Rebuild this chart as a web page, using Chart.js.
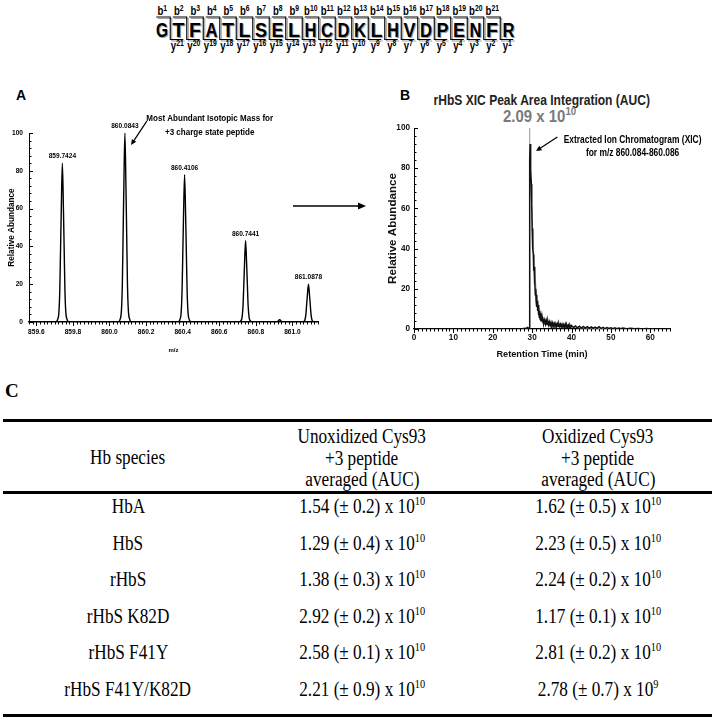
<!DOCTYPE html>
<html>
<head>
<meta charset="utf-8">
<script src="https://cdn.jsdelivr.net/npm/chart.js@4.4.1/dist/chart.umd.min.js"></script>
<style>
  html, body { margin: 0; padding: 0; background: #fff; }
  body { position: relative; width: 714px; height: 719px; overflow: hidden; font-family: 'Liberation Sans', Arial, sans-serif; }
  .abs { position: absolute; }
  .panel { font: bold 14px 'Liberation Sans', Arial, sans-serif; color: #000; }
  .squeeze { display: inline-block; transform-origin: center; }
  .cell { position: absolute; width: 300px; text-align: center; font: 20px 'Liberation Serif', 'Times New Roman', serif; line-height: 22px; color: #000; white-space: nowrap; }
  .cell span.sq { display: inline-block; transform: scaleX(0.86); }
  .cell sup { font-size: 12px; vertical-align: 8px; line-height: 0; }
  .rule { position: absolute; left: 3px; width: 709px; height: 3px; background: #000; }
</style>
</head>
<body>
<svg id="seq" class="abs" style="left:0;top:0" width="714" height="56"></svg>

<div class="abs panel" style="left:16px;top:87px">A</div>
<div class="abs panel" style="left:400px;top:87px">B</div>

<div class="abs" style="left:392px;top:92px;width:300px;text-align:center;font-weight:bold;font-size:14px;color:#222"><span class="squeeze" style="transform:scaleX(0.86)">rHbS XIC Peak Area Integration (AUC)</span></div>
<div class="abs" style="left:390px;top:107px;width:300px;text-align:center;font-weight:bold;font-size:17px;color:#7a7a7a"><span class="squeeze" style="transform:scaleX(0.88)">2.09 x 10<sup style="font-size:11px;vertical-align:7px;line-height:0">10</sup></span></div>

<div class="abs" style="left:0;top:100px;width:330px;height:272px"><canvas id="specChart"></canvas></div>
<div class="abs" style="left:360px;top:80px;width:354px;height:290px"><canvas id="xicChart"></canvas></div>

<svg class="abs" style="left:0;top:0" width="714" height="380">
  <line x1="293" y1="206" x2="359" y2="206" stroke="#000" stroke-width="1.5"/>
  <polygon points="358,202.5 366,206 358,209.5" fill="#000"/>
</svg>

<div class="abs" style="left:5px;top:380px;font:bold 19px 'Liberation Serif','Times New Roman',serif">C</div>
<div id="tbl"></div>

<script>
// peptide sequence
const residues = ['G', 'T', 'F', 'A', 'T', 'L', 'S', 'E', 'L', 'H', 'C', 'D', 'K', 'L', 'H', 'V', 'D', 'P', 'E', 'N', 'F', 'R'];

// panel A: isotope cluster of the +3 peptide (profile spectrum)
const peakMz = [859.7424, 860.0843, 860.4106, 860.7441, 861.0878];
const peakAbund = [84, 100, 78, 43, 20];
const specMz = [
  859.56,
  859.7064, 859.7164, 859.7234, 859.7284, 859.7324, 859.7364, 859.7424, 859.7484, 859.7524, 859.7564, 859.7614, 859.7684, 859.7784,
  860.0483, 860.0583, 860.0653, 860.0703, 860.0743, 860.0783, 860.0843, 860.0903, 860.0943, 860.0983, 860.1033, 860.1103, 860.1203,
  860.3746, 860.3846, 860.3916, 860.3966, 860.4006, 860.4046, 860.4106, 860.4166, 860.4206, 860.4246, 860.4296, 860.4366, 860.4466,
  860.7081, 860.7181, 860.7251, 860.7301, 860.7341, 860.7381, 860.7441, 860.7501, 860.7541, 860.7581, 860.7631, 860.7701, 860.7801,
  860.915, 860.93, 860.945,
  861.0518, 861.0618, 861.0688, 861.0738, 861.0778, 861.0818, 861.0878, 861.0938, 861.0978, 861.1018, 861.1068, 861.1138, 861.1238,
  861.14
];
const specAbund = [
  0,
  0, 1.3, 5, 17, 38, 59, 84, 59, 38, 17, 5, 1.3, 0,
  0, 1.5, 6, 20, 45, 70, 100, 70, 45, 20, 6, 1.5, 0,
  0, 1.2, 4.7, 16, 35, 55, 78, 55, 35, 16, 4.7, 1.2, 0,
  0, 0.6, 2.6, 8.6, 19, 30, 43, 30, 19, 8.6, 2.6, 0.6, 0,
  0, 1.2, 0,
  0, 0.3, 1.2, 4, 9, 14, 20, 14, 9, 4, 1.2, 0.3, 0,
  0
];

// panel B: extracted ion chromatogram (black) and integrated peak (grey)
const xicRt = [
  0, 27.5, 27.9, 28.2, 28.5, 28.7, 28.9, 29.1, 29.2,
  29.3, 29.35, 29.4, 29.45, 29.5, 29.55, 29.6, 29.7, 29.8, 29.9, 30.0, 30.1, 30.2, 30.3, 30.4, 30.5, 30.6, 30.7, 30.8, 30.9,
  31.0, 31.1, 31.2, 31.3, 31.4, 31.5, 31.6, 31.7, 31.8, 31.9, 32.0, 32.1, 32.2, 32.3, 32.4, 32.5, 32.6, 32.7, 32.8, 32.9, 33.0,
  33.2, 33.4, 33.6, 33.8, 34.0, 34.2, 34.4, 34.6, 34.8, 35.0, 35.2, 35.4, 35.6, 35.8, 36.0, 36.2, 36.4, 36.6, 36.8,
  37.0, 37.2, 37.4, 37.6, 37.8, 38.0, 38.2, 38.4, 38.6, 38.8, 39.0, 39.2, 39.4, 39.6, 39.8, 40.0,
  40.5, 41, 41.5, 42, 42.5, 43, 43.5, 44, 44.5, 45, 45.5, 46, 46.5, 47, 47.5, 48, 48.5, 49, 49.5, 50,
  50.5, 51, 51.5, 52, 52.5, 53, 54, 55, 56, 57, 58, 59, 60, 65
];
const xicAbund = [
  0, 0, 0.3, 0.1, 0.5, 0.2, 0.6, 0.3, 0.4,
  1, 20, 55, 84, 92, 86, 88, 79, 72, 62, 50, 48, 40, 37, 29, 31, 22, 25, 17, 20,
  14, 17, 11, 14, 9, 12, 7, 10, 6, 9, 5, 8, 4.5, 7, 4, 6, 3.5, 5.5, 3, 5, 2.8, 4.6,
  2.5, 4.2, 2.2, 3.8, 2, 3.5, 1.8, 3.2, 1.6, 3.0, 1.5, 2.8, 1.4, 2.7, 1.3, 2.6, 1.2, 2.5, 1.2,
  2.4, 1.1, 2.3, 1.0, 2.2, 1.0, 2.4, 0.9, 2.0, 0.9, 1.9, 0.8, 1.8, 0.8, 1.7, 0.7,
  1.5, 0.6, 1.4, 0.5, 1.3, 0.5, 1.2, 0.4, 1.0, 0.4, 0.9, 0.3, 1.1, 0.3, 0.8, 0.2, 0.7, 0.3, 0.6, 0.2,
  0.6, 0.2, 0.5, 0.1, 0.5, 0.1, 0.4, 0.1, 0.3, 0, 0.2, 0, 0, 0
];
const aucRt = [29.2, 29.3, 29.33, 29.45, 29.7, 30.0, 30.3, 30.6, 31.0, 31.5, 32.2, 33.2, 35, 38, 42, 48, 55];
const aucAbund = [0, 0.5, 100, 82, 70, 55, 42, 31, 20, 12, 7.5, 4.5, 2.8, 1.5, 0.6, 0.2, 0];

// panel C table
const species = ['HbA', 'HbS', 'rHbS', 'rHbS K82D', 'rHbS F41Y', 'rHbS F41Y/K82D'];
const unoxMean = [1.54, 1.29, 1.38, 2.92, 2.58, 2.21];
const unoxSd = [0.2, 0.4, 0.3, 0.2, 0.1, 0.9];
const unoxExp = [10, 10, 10, 10, 10, 10];
const oxMean = [1.62, 2.23, 2.24, 1.17, 2.81, 2.78];
const oxSd = [0.5, 0.5, 0.2, 0.1, 0.2, 0.7];
const oxExp = [10, 10, 10, 10, 10, 9];

const ARIAL = "'Liberation Sans', Arial, sans-serif";

// ---- sequence with b / y fragment brackets
const svg = document.getElementById('seq');
const NS = 'http://www.w3.org/2000/svg';
function el(tag, attrs, text, parent) {
  const e = document.createElementNS(NS, tag);
  for (const k in attrs) e.setAttribute(k, attrs[k]);
  if (text !== undefined) e.textContent = text;
  (parent || svg).appendChild(e);
  return e;
}
function ionLabel(x, y, ion, n) {
  const g = el('g', { transform: `translate(${x} ${y}) scale(0.8 1)` });
  const t = el('text', { x: 0, y: 0, 'text-anchor': 'middle', 'font-family': ARIAL, 'font-weight': 'bold', 'font-size': 12 }, undefined, g);
  el('tspan', {}, ion, t);
  el('tspan', { dy: -4, 'font-size': 8.5 }, n, t);
}
const seqX0 = 162, seqDx = 16.5;
for (let k = 1; k < residues.length; k++) {
  const xc = seqX0 + (k - 0.5) * seqDx;
  const d = `M${xc - 14} 17 H${xc} V39.5 H${xc + 13}`;
  el('path', { d: d, fill: 'none', stroke: '#a0a0a0', 'stroke-width': 1.1, transform: 'translate(1.5,1.5)' });
  el('path', { d: d, fill: 'none', stroke: '#000', 'stroke-width': 1.1 });
  ionLabel(xc - 8, 15, 'b', k);
  ionLabel(xc + 7, 50, 'y', residues.length - k);
}
residues.forEach((r, i) => {
  const x = seqX0 + i * seqDx;
  const attrs = { 'text-anchor': 'middle', 'font-family': ARIAL, 'font-weight': 'bold', 'font-size': 21, textLength: 12, lengthAdjust: 'spacingAndGlyphs' };
  el('text', Object.assign({ x: x + 1, y: 38, fill: '#a0a0a0' }, attrs), r);
  el('text', Object.assign({ x: x, y: 37, fill: '#000' }, attrs), r);
});

// ---- tick marks (inward on y, downward on x) and text callouts
const axisMarks = {
  id: 'axisMarks',
  afterDatasetsDraw(chart, args, opts) {
    const ctx = chart.ctx;
    ctx.save();
    ctx.strokeStyle = '#000';
    ctx.lineWidth = 1;
    ['x', 'y'].forEach(id => {
      const s = chart.scales[id];
      const o = opts[id];
      const every = Math.round(o.major / o.minor);
      const lo = Math.ceil(s.min / o.minor - 1e-6);
      const hi = Math.floor(s.max / o.minor + 1e-6);
      for (let k = lo; k <= hi; k++) {
        const len = k % every === 0 ? o.majorLen : o.minorLen;
        const p = Math.round(s.getPixelForValue(k * o.minor)) + 0.5;
        ctx.beginPath();
        if (id === 'x') {
          ctx.moveTo(p, s.top);
          ctx.lineTo(p, s.top + len);
        } else {
          ctx.moveTo(s.right, p);
          ctx.lineTo(s.right + len, p);
        }
        ctx.stroke();
      }
    });
    ctx.restore();
  }
};

function squeezedText(ctx, text, x, y, sx) {
  ctx.save();
  ctx.translate(x, y);
  ctx.scale(sx, 1);
  ctx.fillText(text, 0, 0);
  ctx.restore();
}

const callouts = {
  id: 'callouts',
  afterDatasetsDraw(chart, args, opts) {
    const { ctx, scales: { x, y } } = chart;
    ctx.save();
    ctx.fillStyle = '#000';
    ctx.strokeStyle = '#000';
    ctx.textAlign = 'center';
    ctx.textBaseline = 'middle';
    ctx.font = opts.labelFont;
    (opts.labels || []).forEach(l => {
      squeezedText(ctx, l.text, x.getPixelForValue(l.x), y.getPixelForValue(l.y) - opts.labelGap, opts.squeeze);
    });
    ctx.font = opts.noteFont;
    (opts.notes || []).forEach(n => {
      squeezedText(ctx, n.text, x.getPixelForValue(n.x), y.getPixelForValue(n.y), opts.squeeze);
    });
    (opts.arrows || []).forEach(a => {
      const x1 = x.getPixelForValue(a.from[0]), y1 = y.getPixelForValue(a.from[1]);
      const x2 = x.getPixelForValue(a.to[0]), y2 = y.getPixelForValue(a.to[1]);
      const ang = Math.atan2(y2 - y1, x2 - x1);
      ctx.lineWidth = 1.2;
      ctx.beginPath();
      ctx.moveTo(x1, y1);
      ctx.lineTo(x2 - 4 * Math.cos(ang), y2 - 4 * Math.sin(ang));
      ctx.stroke();
      ctx.beginPath();
      ctx.moveTo(x2, y2);
      ctx.lineTo(x2 - 6 * Math.cos(ang - 0.45), y2 - 6 * Math.sin(ang - 0.45));
      ctx.lineTo(x2 - 6 * Math.cos(ang + 0.45), y2 - 6 * Math.sin(ang + 0.45));
      ctx.closePath();
      ctx.fill();
    });
    ctx.restore();
  }
};

function isMultiple(v, step) {
  return Math.abs(v / step - Math.round(v / step)) < 1e-6;
}

// ---- panel A
new Chart(document.getElementById('specChart'), {
  type: 'scatter',
  data: {
    datasets: [{
      data: specMz.map((mz, i) => ({ x: mz, y: specAbund[i] })),
      showLine: true,
      borderColor: '#000',
      borderWidth: 1.4,
      pointRadius: 0,
      cubicInterpolationMode: 'monotone',
      fill: false
    }]
  },
  options: {
    responsive: true,
    maintainAspectRatio: false,
    animation: false,
    devicePixelRatio: 1,
    layout: { padding: { top: 33, right: 12, left: 0, bottom: 0 } },
    plugins: {
      legend: { display: false },
      tooltip: { enabled: false },
      axisMarks: {
        x: { major: 0.2, minor: 0.02, majorLen: 4, minorLen: 2.5 },
        y: { major: 20, minor: 4, majorLen: 4, minorLen: 2.5 }
      },
      callouts: {
        squeeze: 0.82,
        labelFont: `bold 8px ${ARIAL}`,
        labelGap: 7,
        labels: peakMz.map((mz, i) => ({ x: mz, y: peakAbund[i], text: mz.toFixed(4) })),
        noteFont: `bold 9.8px ${ARIAL}`,
        notes: [
          { x: 860.548, y: 107.9, text: 'Most Abundant Isotopic Mass for' },
          { x: 860.548, y: 100.5, text: '+3 charge state peptide' }
        ],
        arrows: [{ from: [860.204, 106.3], to: [860.118, 93.7] }]
      }
    },
    scales: {
      x: {
        type: 'linear',
        min: 859.56,
        max: 861.14,
        grid: { display: false, drawTicks: false },
        border: { display: true, color: '#000', width: 1.6 },
        ticks: {
          stepSize: 0.2,
          includeBounds: false,
          autoSkip: false,
          maxRotation: 0,
          padding: 6,
          color: '#000',
          font: { family: ARIAL, weight: 'bold', size: 6.6 },
          callback: v => (isMultiple(v, 0.2) ? v.toFixed(1) : '')
        },
        title: { display: true, text: 'm/z', color: '#000', font: { family: ARIAL, weight: 'bold', size: 6 }, padding: { top: 0, bottom: 18 } },
        afterFit: s => { s.height = 50; }
      },
      y: {
        min: 0,
        max: 100,
        grid: { display: false, drawTicks: false },
        border: { display: true, color: '#000', width: 1 },
        ticks: {
          stepSize: 20,
          padding: 6,
          color: '#000',
          font: { family: ARIAL, weight: 'bold', size: 6.6 }
        },
        title: { display: true, text: 'Relative Abundance', color: '#000', font: { family: ARIAL, weight: 'bold', size: 8.2 }, padding: { top: 7, bottom: 0 } },
        afterFit: s => { s.width = 29; }
      }
    }
  },
  plugins: [axisMarks, callouts]
});

// ---- panel B
new Chart(document.getElementById('xicChart'), {
  type: 'scatter',
  data: {
    datasets: [
      {
        data: xicRt.map((t, i) => ({ x: t, y: xicAbund[i] })),
        showLine: true,
        borderColor: '#111',
        borderWidth: 1.5,
        pointRadius: 0,
        fill: false
      },
      {
        data: aucRt.map((t, i) => ({ x: t, y: aucAbund[i] })),
        showLine: true,
        borderColor: '#a8a8a8',
        borderWidth: 1,
        pointRadius: 0,
        fill: false
      }
    ]
  },
  options: {
    responsive: true,
    maintainAspectRatio: false,
    animation: false,
    devicePixelRatio: 1,
    layout: { padding: { top: 48, right: 44, left: 0, bottom: 0 } },
    plugins: {
      legend: { display: false },
      tooltip: { enabled: false },
      axisMarks: {
        x: { major: 10, minor: 1, majorLen: 4, minorLen: 2.5 },
        y: { major: 20, minor: 4, majorLen: 4, minorLen: 2.5 }
      },
      callouts: {
        squeeze: 0.8,
        labelFont: `bold 8px ${ARIAL}`,
        labelGap: 6,
        labels: [],
        noteFont: `bold 10.5px ${ARIAL}`,
        notes: [
          { x: 55.5, y: 94, text: 'Extracted Ion Chromatogram (XIC)' },
          { x: 55.5, y: 87.6, text: 'for m/z 860.084-860.086' }
        ],
        arrows: [{ from: [36.4, 95.5], to: [31.0, 88.6] }]
      }
    },
    scales: {
      x: {
        type: 'linear',
        min: 0,
        max: 65,
        grid: { display: false, drawTicks: false },
        border: { display: true, color: '#000', width: 1.3 },
        ticks: {
          stepSize: 10,
          includeBounds: false,
          autoSkip: false,
          maxRotation: 0,
          padding: 4,
          color: '#111',
          font: { family: ARIAL, weight: 'bold', size: 8.2 }
        },
        title: { display: true, text: 'Retention Time (min)', color: '#111', font: { family: ARIAL, weight: 'bold', size: 9.2 }, padding: { top: 0, bottom: 10 } },
        afterFit: s => { s.height = 41; }
      },
      y: {
        min: 0,
        max: 100,
        grid: { display: false, drawTicks: false },
        border: { display: true, color: '#000', width: 1 },
        ticks: {
          stepSize: 20,
          padding: 4,
          color: '#111',
          font: { family: ARIAL, weight: 'bold', size: 8.2 }
        },
        title: { display: true, text: 'Relative Abundance', color: '#111', font: { family: ARIAL, weight: 'bold', size: 11.6 }, padding: { top: 26, bottom: 0 } },
        afterFit: s => { s.width = 54; }
      }
    }
  },
  plugins: [axisMarks, callouts]
});

// ---- panel C table
const tbl = document.getElementById('tbl');
const colX = [128, 362, 598];
function cell(col, yMid, html) {
  const d = document.createElement('div');
  d.className = 'cell';
  d.style.left = (colX[col] - 150) + 'px';
  d.style.top = (yMid - 11) + 'px';
  d.innerHTML = `<span class="sq">${html}</span>`;
  tbl.appendChild(d);
}
function rule(top) {
  const d = document.createElement('div');
  d.className = 'rule';
  d.style.top = top + 'px';
  tbl.appendChild(d);
}
rule(419);
rule(491);
rule(714);
cell(0, 457, 'Hb species');
['Unoxidized Cys93', '+3 peptide', 'averaged (AUC)'].forEach((t, i) => cell(1, 436 + i * 21.5, t));
['Oxidized Cys93', '+3 peptide', 'averaged (AUC)'].forEach((t, i) => cell(2, 436 + i * 21.5, t));
species.forEach((s, i) => {
  const y = 506 + i * 36.5;
  cell(0, y, s);
  cell(1, y, `${unoxMean[i].toFixed(2)} (± ${unoxSd[i]}) x 10<sup>${unoxExp[i]}</sup>`);
  cell(2, y, `${oxMean[i].toFixed(2)} (± ${oxSd[i]}) x 10<sup>${oxExp[i]}</sup>`);
});
</script>
</body>
</html>
